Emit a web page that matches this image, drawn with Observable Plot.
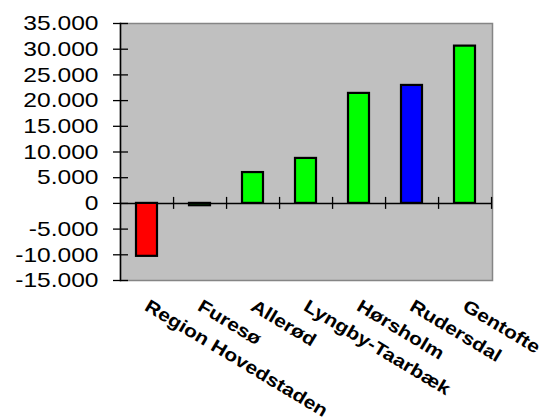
<!DOCTYPE html>
<html>
<head>
<meta charset="utf-8">
<script src="https://cdn.jsdelivr.net/npm/d3@7"></script>
<script src="https://cdn.jsdelivr.net/npm/@observablehq/plot@0.6"></script>
<style>
  html, body { margin: 0; padding: 0; background: #fff; }
  #chart svg { display: block; }
</style>
</head>
<body>
<div id="chart"></div>
<script>
const categories = ["Region Hovedstaden", "Furesø", "Allerød", "Lyngby-Taarbæk", "Hørsholm", "Rudersdal", "Gentofte"];
const values = [-10300, -450, 6000, 8750, 21400, 22950, 30600];
const barColors = ["#ff0000", "#00ff00", "#00ff00", "#00ff00", "#00ff00", "#0000ff", "#00ff00"];
const yTicks = [-15000, -10000, -5000, 0, 5000, 10000, 15000, 20000, 25000, 30000, 35000];
const yTickLabels = ["-15.000", "-10.000", "-5.000", "0", "5.000", "10.000", "15.000", "20.000", "25.000", "30.000", "35.000"];

const data = categories.map((name, i) => ({name, value: values[i], color: barColors[i]}));

const svg = Plot.plot({
  width: 547,
  height: 419,
  marginLeft: 120,
  marginRight: 55,
  marginTop: 23,
  marginBottom: 139,
  style: {background: "#ffffff", color: "#000", fontFamily: "'Liberation Sans', Arial, sans-serif"},
  x: {domain: categories, paddingInner: 0.6, paddingOuter: 0.3, axis: null},
  y: {domain: [-15000, 35000], axis: null},
  color: {type: "identity"},
  marks: [
    Plot.frame({fill: "#c0c0c0", stroke: "#858585", strokeWidth: 1.5}),
    Plot.frame({anchor: "left", stroke: "#000", strokeWidth: 1.5}),
    Plot.axisY({
      ticks: yTicks,
      tickFormat: d => yTickLabels[yTicks.indexOf(d)],
      tickSize: 15,
      dx: 8,
      tickPadding: 15,
      fontSize: 21,
      stroke: "#000",
      strokeWidth: 1.3,
      label: null
    }),
    Plot.ruleY([0], {stroke: "#000", strokeWidth: 1.5}),
    Plot.ruleX(categories, {x: d => d, y1: 0, y2: 0, insetTop: -6, insetBottom: -6, dx: 26.57, stroke: "#000", strokeWidth: 1.3}),
    Plot.barY(data, {x: "name", y: "value", fill: "color", stroke: "#000", strokeWidth: 2.2}),
    Plot.text(categories, {
      x: d => d,
      frameAnchor: "bottom",
      text: d => d,
      rotate: 31,
      textAnchor: "start",
      lineAnchor: "top",
      dx: 3,
      dy: 18,
      fontSize: 18,
      fontWeight: "bold",
      fill: "#000"
    })
  ]
});

document.getElementById("chart").append(svg);

// horizontally widen the labels, as in the reference
svg.querySelectorAll("text").forEach(t => {
  const s = t.textContent;
  if (yTickLabels.includes(s) || categories.includes(s)) {
    const len = t.getComputedTextLength();
    t.setAttribute("textLength", (len * 1.17).toFixed(1));
    t.setAttribute("lengthAdjust", "spacingAndGlyphs");
  }
});
</script>
</body>
</html>
